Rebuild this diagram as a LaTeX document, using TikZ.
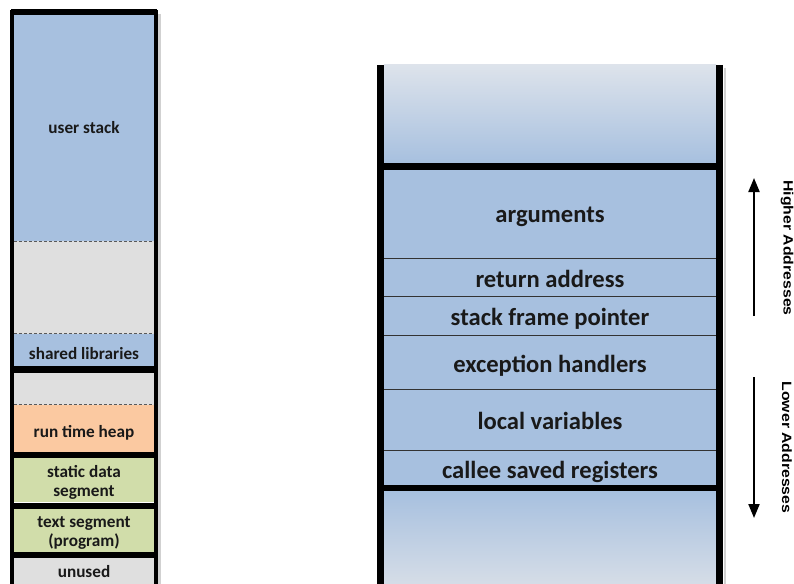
\documentclass[tikz,border=0pt]{standalone}
\usepackage{fontspec}
\newfontfamily\carl{Carlito}
\newfontfamily\arialf{Liberation Sans}
\usetikzlibrary{arrows.meta}
\definecolor{segblue}{RGB}{167,192,223}
\definecolor{seggray}{RGB}{223,223,223}
\definecolor{segorange}{RGB}{251,201,161}
\definecolor{seggreen}{RGB}{209,221,170}
\definecolor{fadeblue}{RGB}{221,227,235}
\definecolor{fadebot}{RGB}{214,221,231}
\definecolor{txt}{RGB}{25,25,25}
\begin{document}
\begin{tikzpicture}[x=1pt,y=-1pt,
  seg/.style={inner sep=0pt, minimum width=140pt},
  segtext/.style={inner sep=0pt, anchor=base, text=txt,
    font=\carl\bfseries\fontsize{17.2}{20}\selectfont},
  frm/.style={inner sep=0pt, minimum width=332pt, fill=segblue},
  frmtext/.style={inner sep=0pt, anchor=base, text=txt,
    font=\carl\bfseries\fontsize{24.6}{28}\selectfont},
  lbar/.style={inner sep=0pt, fill=black, minimum width=146pt},
  rbar/.style={inner sep=0pt, fill=black, minimum width=342pt, minimum height=7pt},
  dashline/.style={draw=black!65, line width=0.9pt, dash pattern=on 3pt off 2pt},
  thinsep/.style={draw=black!80, line width=1pt},
  wall/.style={line width=4pt},
  rwall/.style={line width=7pt},
  shadow/.style={draw=black!18, line width=2.5pt},
  addr/.style={line width=2pt, -{Triangle[length=14pt,width=11pt]}},
  addrtext/.style={inner sep=0pt, rotate=-90, text=black,
    font=\arialf\bfseries\fontsize{13.5}{15}\selectfont}
]
\useasboundingbox (0,0) rectangle (794,583);
\fill[white] (0,0) rectangle (794,583);

% ---------- left column ----------
\coordinate (ltl) at (12,10);
\coordinate (lbl) at (12,590);
\coordinate (ltr) at (156,10);
\coordinate (lbr) at (156,590);
\coordinate (sht) at (159.5,14);
\coordinate (shb) at (159.5,590);
\draw[shadow] (sht) -- (shb);

\node[seg, fill=segblue, minimum height=226pt] (us) at (84,128) {};
\node[seg, fill=seggray, minimum height=93pt] (g1) at (84,287.5) {};
\node[seg, fill=segblue, minimum height=32pt] (shl) at (84,350) {};
\node[seg, fill=seggray, minimum height=32pt] (g2) at (84,389) {};
\node[seg, fill=segorange, minimum height=47pt] (heap) at (84,428.5) {};
\node[seg, fill=seggreen, minimum height=44pt] (sds) at (84,480) {};
\node[seg, fill=seggreen, minimum height=43pt] (txs) at (84,530.5) {};
\node[seg, fill=seggray, minimum height=30pt] (unu) at (84,573) {};
\node[lbar, minimum height=6pt] (b0) at (84,12) {};
\node[lbar, minimum height=7pt] (b1) at (84,369.5) {};
\node[lbar, minimum height=6pt] (b2) at (84,455) {};
\node[lbar, minimum height=6pt] (b3) at (84,505.5) {};
\node[lbar, minimum height=6pt] (b4) at (84,555) {};

\node[segtext] (ust) at (84,133) {user stack};
\node[segtext] (shlt) at (84,359) {shared libraries};
\node[segtext] (heapt) at (84,437.5) {run time heap};
\node[segtext] (sdsa) at (84,477) {static data};
\node[segtext] (sdsb) at (84,496) {segment};
\node[segtext] (txsa) at (84,527) {text segment};
\node[segtext] (txsb) at (84,546) {(program)};
\node[segtext] (unut) at (84,577) {unused};

\draw[dashline] (us.south west) -- (us.south east);
\draw[dashline] (shl.north west) -- (shl.north east);
\draw[dashline] (heap.north west) -- (heap.north east);

\draw[wall] (ltl) -- (lbl);
\draw[wall] (ltr) -- (lbr);

% ---------- right column ----------
\coordinate (rsht) at (725,68);
\coordinate (rshb) at (725,590);
\draw[shadow] (rsht) -- (rshb);

\node[frm, shade, top color=fadeblue, bottom color=segblue, minimum height=98pt] (gtop) at (550,114) {};
\node[rbar] (rb1) at (550,166.5) {};
\node[frm, minimum height=88pt] (args) at (550,214) {};
\node[frm, minimum height=38pt] (ret) at (550,277) {};
\node[frm, minimum height=39pt] (sfp) at (550,315.5) {};
\node[frm, minimum height=54pt] (exh) at (550,362) {};
\node[frm, minimum height=61pt] (locv) at (550,419.5) {};
\node[frm, minimum height=35pt] (csr) at (550,467.5) {};
\node[rbar, minimum height=6pt] (rb2) at (550,488) {};
\node[frm, shade, top color=segblue, bottom color=fadebot, minimum height=94pt] (gbot) at (550,538) {};

\node[frmtext] (argst) at (550,222) {arguments};
\node[frmtext] (rett) at (550,287) {return address};
\node[frmtext] (sfpt) at (550,325) {stack frame pointer};
\node[frmtext] (exht) at (550,372) {exception handlers};
\node[frmtext] (locvt) at (550,429) {local variables};
\node[frmtext] (csrt) at (550,478) {callee saved registers};

\draw[thinsep] (args.south west) -- (args.south east);
\draw[thinsep] (ret.south west) -- (ret.south east);
\draw[thinsep] (sfp.south west) -- (sfp.south east);
\draw[thinsep] (exh.south west) -- (exh.south east);
\draw[thinsep] (locv.south west) -- (locv.south east);

\coordinate (rlt) at (380.5,65);
\coordinate (rlb) at (380.5,590);
\coordinate (rrt) at (719.5,65);
\coordinate (rrb) at (719.5,590);
\draw[rwall] (rlt) -- (rlb);
\draw[rwall] (rrt) -- (rrb);

% ---------- address arrows ----------
\coordinate (hi1) at (754,316);
\coordinate (hi2) at (754,178);
\coordinate (lo1) at (754,377);
\coordinate (lo2) at (754,518);
\draw[addr] (hi1) -- (hi2);
\draw[addr] (lo1) -- (lo2);
\node[addrtext] (hit) at (787,248) {\scalebox{1.17}[1]{Higher Addresses}};
\node[addrtext] (lot) at (787,447.5) {\scalebox{1.17}[1]{Lower Addresses}};
\end{tikzpicture}
\end{document}
